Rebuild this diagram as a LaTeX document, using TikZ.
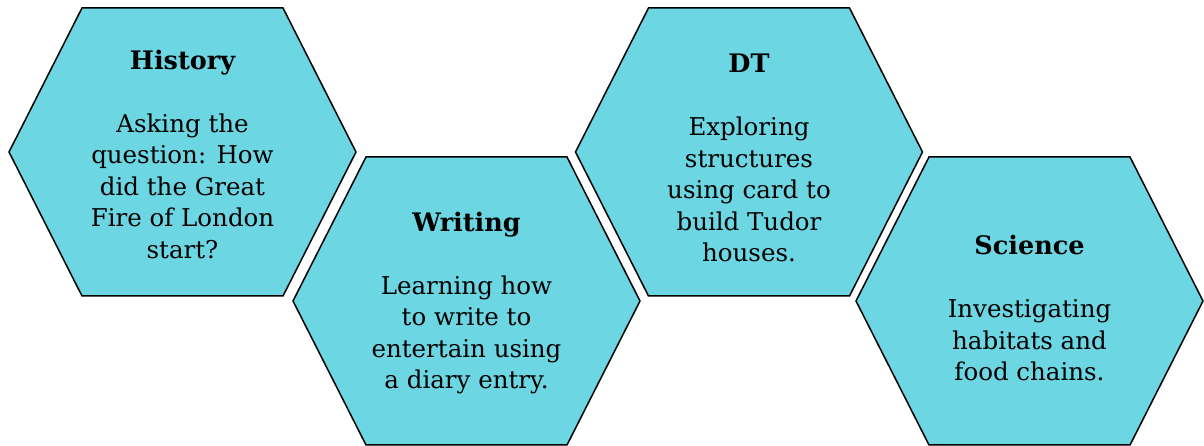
\documentclass[tikz,border=0pt]{standalone}
\usepackage{fontspec}
\setmainfont{DejaVu Serif}
\usetikzlibrary{positioning}

\definecolor{hexcyan}{RGB}{108,214,227}
\newcommand{\subjecttitle}[1]{{\fontsize{25.5}{31.5}\selectfont\bfseries #1}}

\begin{document}
\begin{tikzpicture}[
    x=1pt, y=1pt,
    % Style for the hexagon outline and fill
    hex_style/.style={
        draw=black,
        fill=hexcyan,
        line width=1.5pt,
        line join=miter
    },
    % Hexagon drawn around its centre (flat top and bottom)
    hex_cell/.pic={
        \path[hex_style] (-173.5,0) -- (-100.5,144) -- (100.5,144)
            -- (173.5,0) -- (100.5,-144) -- (-100.5,-144) -- cycle;
    },
    % Style for the text inside each hexagon
    text_style/.style={
        align=center,
        inner sep=0pt,
        font=\fontsize{24.5}{31.5}\selectfont
    }
]
    % Fix the page to the size of the reference
    \useasboundingbox (0,0) rectangle (1204,446);

    % 1. The four hexagons, alternating high and low
    \pic at (182.5,294) {hex_cell};
    \pic at (466.5,145) {hex_cell};
    \pic at (749,294) {hex_cell};
    \pic at (1029.5,145) {hex_cell};

    % 2. The text of each hexagon: subject title, then description
    \node[text_style] (history_text) at (182.5,292) {\subjecttitle{History}\\[31.5pt]
        Asking the\\ question: How\\ did the Great\\ Fire of London\\ start?};
    \node[text_style] (writing_text) at (466.5,143) {\subjecttitle{Writing}\\[31.5pt]
        Learning how\\ to write to\\ entertain using\\ a diary entry.};
    \node[text_style] (dt_text) at (749,288) {\subjecttitle{DT}\\[31.5pt]
        Exploring\\ structures\\ using card to\\ build Tudor\\ houses.};
    \node[text_style] (science_text) at (1029.5,138) {\subjecttitle{Science}\\[31.5pt]
        Investigating\\ habitats and\\ food chains.};

\end{tikzpicture}
\end{document}
